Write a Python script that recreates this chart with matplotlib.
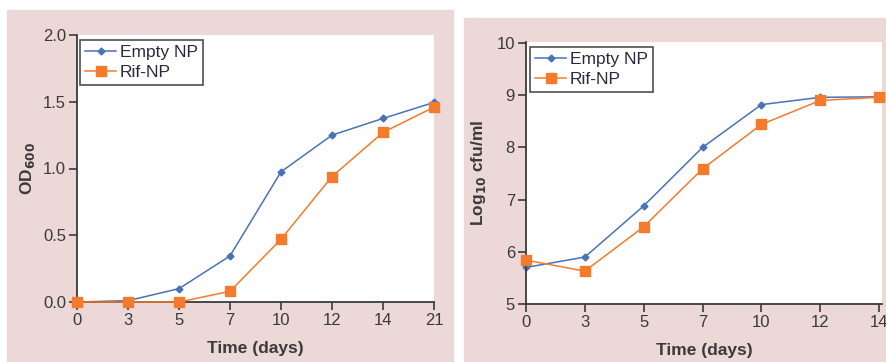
import matplotlib
matplotlib.use('Agg')
import matplotlib.pyplot as plt
import matplotlib.patches
import numpy as np

# OD600 growth curve
days_od = ['0', '3', '5', '7', '10', '12', '14', '21']
od_empty = [0.0, 0.01, 0.10, 0.345, 0.975, 1.25, 1.375, 1.495]
od_rif = [0.0, 0.0, 0.0, 0.08, 0.47, 0.94, 1.27, 1.46]

# log10 cfu/ml
days_cfu = ['0', '3', '5', '7', '10', '12', '14']
cfu_empty = [5.70, 5.90, 6.88, 8.0, 8.82, 8.96, 8.97]
cfu_rif = [5.84, 5.63, 6.48, 7.59, 8.44, 8.90, 8.96]

BLUE = '#4a72b8'
ORANGE = '#f47b2c'
PINK = '#ebd8d7'
DARK = '#3a3a3a'

plt.rcParams['font.family'] = ['Liberation Sans', 'DejaVu Sans']

fig = plt.figure(figsize=(8.87, 3.62), dpi=100)

# pink panel backgrounds (behind the axes)
fig.patches.append(matplotlib.patches.Rectangle((7/887, 0), 446/887, 352/362,
                   transform=fig.transFigure, color=PINK, zorder=-1))
fig.patches.append(matplotlib.patches.Rectangle((464/887, 0), 423/887, 344/362,
                   transform=fig.transFigure, color=PINK, zorder=-1))


def style(ax):
    for s in ['top', 'right']:
        ax.spines[s].set_visible(False)
    for s in ['left', 'bottom']:
        ax.spines[s].set_color(DARK)
        ax.spines[s].set_linewidth(1.3)
    ax.tick_params(direction='out', length=6, width=1.2, color=DARK,
                   labelcolor=DARK, labelsize=12, pad=2)


def plot_series(ax, days, empty, rif, anchor):
    x = np.arange(len(days))
    ax.plot(x, empty, color=BLUE, marker='D', markersize=3.5, lw=1.1,
            label='Empty NP', clip_on=False, zorder=2)
    ax.plot(x, rif, color=ORANGE, marker='s', markersize=6.5, lw=1.1,
            label='Rif-NP', clip_on=False, zorder=3)
    ax.set_xticks(x)
    ax.set_xticklabels(days)
    leg = ax.legend(loc='upper left', bbox_to_anchor=anchor, fontsize=12.5,
                    frameon=True, fancybox=False, borderpad=0.3, handlelength=1.8,
                    handletextpad=0.2, labelspacing=0.25, borderaxespad=0)
    leg.get_frame().set_edgecolor('#222222')
    leg.get_frame().set_linewidth(1.2)
    for t in leg.get_texts():
        t.set_color('#2a2a3a')


ax1 = fig.add_axes([77/887, 1 - 302/362, 357/887, 267/362])
style(ax1)
plot_series(ax1, days_od, od_empty, od_rif, (3/357, 1 - 5/267))
ax1.set_xlim(0, 7)
ax1.set_ylim(0, 2.0)
ax1.set_yticks([0, 0.5, 1.0, 1.5, 2.0])
ax1.set_yticklabels(['0.0', '0.5', '1.0', '1.5', '2.0'])
ax1.set_xlabel('Time (days)', fontsize=12.5, fontweight='bold', color=DARK, labelpad=9)
ax1.set_ylabel('OD$_{\\mathbf{600}}$', fontsize=12.5, fontweight='bold', color=DARK, labelpad=4)

ax2 = fig.add_axes([526/887, 1 - 304/362, 356/887, 262/362])
style(ax2)
plot_series(ax2, days_cfu, cfu_empty, cfu_rif, (4/356, 1 - 5/262))
ax2.set_xlim(0, 6.05)
ax2.set_ylim(5, 10.02)
ax2.set_yticks([5, 6, 7, 8, 9, 10])
ax2.set_xlabel('Time (days)', fontsize=12.5, fontweight='bold', color=DARK, labelpad=9)
ax2.set_ylabel('Log$_{\\mathbf{10}}$ cfu/ml', fontsize=12.5, fontweight='bold', color=DARK, labelpad=6)

fig.savefig('out.png', dpi=100)
